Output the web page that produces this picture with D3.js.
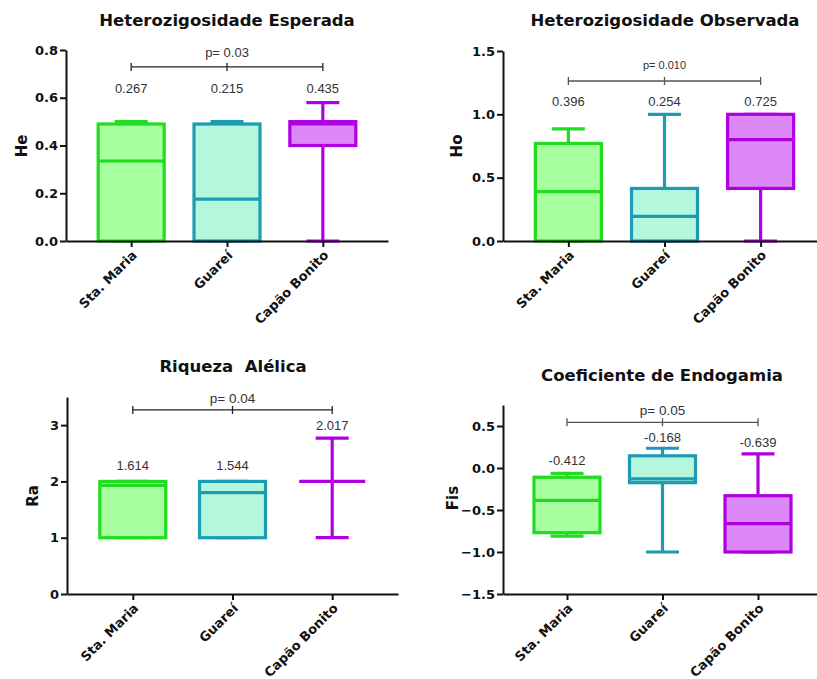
<!DOCTYPE html>
<html><head><meta charset="utf-8">
<script src="https://cdn.jsdelivr.net/npm/d3@7"></script>
<style>body{margin:0;background:#fff}</style>
</head><body>
<script>
// ---------- data ----------
const categories = ["Sta. Maria", "Guareí", "Capão Bonito"];
// box stats per category: [min, q1, median, q3, max]
const heStats  = [[0, 0, 0.335, 0.49, 0.50], [0, 0, 0.175, 0.49, 0.50], [0, 0.40, 0.49, 0.50, 0.58]];
const hoStats  = [[0, 0, 0.39, 0.77, 0.885], [0, 0, 0.195, 0.415, 1.0], [0, 0.415, 0.80, 1.0, 1.0]];
const raStats  = [[1, 1, 1.93, 2, 2], [1, 1, 1.80, 2, 2], [1, 2, 2, 2, 2.77]];
const fisStats = [[-0.81, -0.77, -0.385, -0.11, -0.063], [-1.0, -0.175, -0.13, 0.145, 0.235], [-1.0, -1.0, -0.663, -0.33, 0.167]];
const heMeans  = ["0.267", "0.215", "0.435"];
const hoMeans  = ["0.396", "0.254", "0.725"];
const raMeans  = ["1.614", "1.544", "2.017"];
const fisMeans = ["-0.412", "-0.168", "-0.639"];
const heTicks  = [0, 0.2, 0.4, 0.6, 0.8];
const hoTicks  = [0, 0.5, 1.0, 1.5];
const raTicks  = [0, 1, 2, 3];
const fisTicks = [-1.5, -1.0, -0.5, 0, 0.5];
const pValues  = ["p= 0.03", "p= 0.010", "p= 0.04", "p= 0.05"];
const titles   = ["Heterozigosidade Esperada", "Heterozigosidade Observada", "Riqueza  Alélica", "Coeficiente de Endogamia"];
const yLabels  = ["He", "Ho", "Ra", "Fis"];

// ---------- styles ----------
const strokeColors = ["#22dc22", "#1d9bb2", "#b000e2"];
const fillColors   = ["#a8ff9f", "#b4f7dd", "#dc88f6"];
const boldFont = "DejaVu Sans, sans-serif";
const normFont = "Liberation Sans, Arial, sans-serif";

// ---------- layout ----------
const panels = [
  {stats: heStats, means: heMeans, ticks: heTicks, fmt: d3.format(".1f"), domain: [0, 0.8],
   x0: 66, x1: 388, pad: 0.68, yBottom: 241, yTop: 50,
   title: [227, 26], ylab: [22, 146], meanY: [0.62, 0.62, 0.62], bracketY: 0.729, pY: 0.771, pSize: 13, bracketColor: "#222"},
  {stats: hoStats, means: hoMeans, ticks: hoTicks, fmt: d3.format(".1f"), domain: [0, 1.5],
   x0: 503, x1: 826, pad: 0.68, yBottom: 241, yTop: 51,
   title: [665, 26], ylab: [457, 146], meanY: [1.066, 1.066, 1.066], bracketY: 1.263, pY: 1.358, pSize: 11, bracketColor: "#555"},
  {stats: raStats, means: raMeans, ticks: raTicks, fmt: d3.format("d"), domain: [0, 3.5],
   x0: 67, x1: 398, pad: 0.66, yBottom: 594, yTop: 397,
   title: [233, 372], ylab: [33, 496], meanY: [2.20, 2.20, 2.91], bracketY: 3.27, pY: 3.387, pSize: 13.5, bracketColor: "#222"},
  {stats: fisStats, means: fisMeans, ticks: fisTicks, fmt: d3.format(".1f"), domain: [-1.5, 0.75],
   x0: 503, x1: 822, pad: 0.67, yBottom: 594, yTop: 405,
   title: [662, 381], ylab: [453, 498], meanY: [0.036, 0.313, 0.246], bracketY: 0.544, pY: 0.631, pSize: 13.5, bracketColor: "#555"}
];

const svg = d3.select("body").append("svg").attr("width", 817).attr("height", 679);

panels.forEach((p, pi) => {
  const g = svg.append("g");
  const x = d3.scalePoint().domain(categories).range([p.x0, p.x1]).padding(p.pad);
  const y = d3.scaleLinear().domain(p.domain).range([p.yBottom, p.yTop]);
  const boxW = 66, capW = 33;

  // title
  g.append("text").attr("x", p.title[0]).attr("y", p.title[1])
    .attr("text-anchor", "middle").attr("font-family", boldFont).attr("font-weight", "bold")
    .attr("font-size", 16.5).style("white-space", "pre").attr("fill", "#111").text(titles[pi]);

  // y label
  g.append("text").attr("transform", `translate(${p.ylab[0]},${p.ylab[1]}) rotate(-90)`)
    .attr("text-anchor", "middle").attr("dominant-baseline", "central")
    .attr("font-family", boldFont).attr("font-weight", "bold").attr("font-size", 15)
    .attr("fill", "#111").text(yLabels[pi]);

  // boxes
  categories.forEach((c, i) => {
    const [mn, q1, md, q3, mx] = p.stats[i];
    const cx = x(c);
    const col = strokeColors[i];
    const bg = g.append("g").attr("stroke", col).attr("stroke-width", 3.2).attr("fill", "none");
    // whiskers
    bg.append("line").attr("x1", cx).attr("x2", cx).attr("y1", y(q3)).attr("y2", y(mx));
    bg.append("line").attr("x1", cx).attr("x2", cx).attr("y1", y(q1)).attr("y2", y(mn));
    bg.append("line").attr("x1", cx - capW / 2).attr("x2", cx + capW / 2).attr("y1", y(mx)).attr("y2", y(mx));
    bg.append("line").attr("x1", cx - capW / 2).attr("x2", cx + capW / 2).attr("y1", y(mn)).attr("y2", y(mn));
    // box
    bg.append("rect").attr("x", cx - boxW / 2).attr("width", boxW)
      .attr("y", y(q3)).attr("height", Math.max(0, y(q1) - y(q3)))
      .attr("fill", fillColors[i]);
    bg.append("line").attr("x1", cx - boxW / 2).attr("x2", cx + boxW / 2).attr("y1", y(md)).attr("y2", y(md));
    // mean label
    g.append("text").attr("x", cx).attr("y", y(p.meanY[i])).attr("text-anchor", "middle")
      .attr("font-family", normFont).attr("font-size", 13).attr("fill", "#333").text(p.means[i]);
  });

  // significance bracket
  const by = y(p.bracketY);
  const bx1 = x(categories[0]), bx2 = x(categories[2]), bxm = x(categories[1]);
  const br = g.append("g").attr("stroke", p.bracketColor).attr("stroke-width", 1.3);
  br.append("line").attr("x1", bx1).attr("x2", bx2).attr("y1", by).attr("y2", by);
  [bx1, bxm, bx2].forEach(bx => br.append("line").attr("x1", bx).attr("x2", bx).attr("y1", by - 4).attr("y2", by + 4));
  g.append("text").attr("x", bxm).attr("y", y(p.pY)).attr("text-anchor", "middle")
    .attr("font-family", normFont).attr("font-size", p.pSize).attr("fill", "#333").text(pValues[pi]);

  // y axis
  const ya = g.append("g").attr("transform", `translate(${p.x0},0)`)
    .call(d3.axisLeft(y).tickValues(p.ticks).tickFormat(p.fmt).tickSize(6).tickSizeOuter(0).tickPadding(2));
  ya.select(".domain").attr("stroke", "#111").attr("stroke-width", 2);
  ya.selectAll(".tick line").attr("stroke", "#111").attr("stroke-width", 2);
  ya.selectAll(".tick text").attr("font-family", boldFont).attr("font-weight", "bold")
    .attr("font-size", 13).attr("fill", "#111");

  // x axis
  const xa = g.append("g").attr("transform", `translate(0,${p.yBottom})`)
    .call(d3.axisBottom(x).tickSize(6).tickSizeOuter(0));
  xa.select(".domain").attr("stroke", "#111").attr("stroke-width", 2);
  xa.selectAll(".tick line").attr("stroke", "#111").attr("stroke-width", 2);
  xa.selectAll(".tick text")
    .attr("font-family", boldFont).attr("font-weight", "bold").attr("font-size", 13).attr("fill", "#111")
    .attr("text-anchor", "end").attr("dy", 0).attr("y", 0)
    .attr("transform", "translate(6,15) rotate(-45)");
});
</script>
</body></html>
